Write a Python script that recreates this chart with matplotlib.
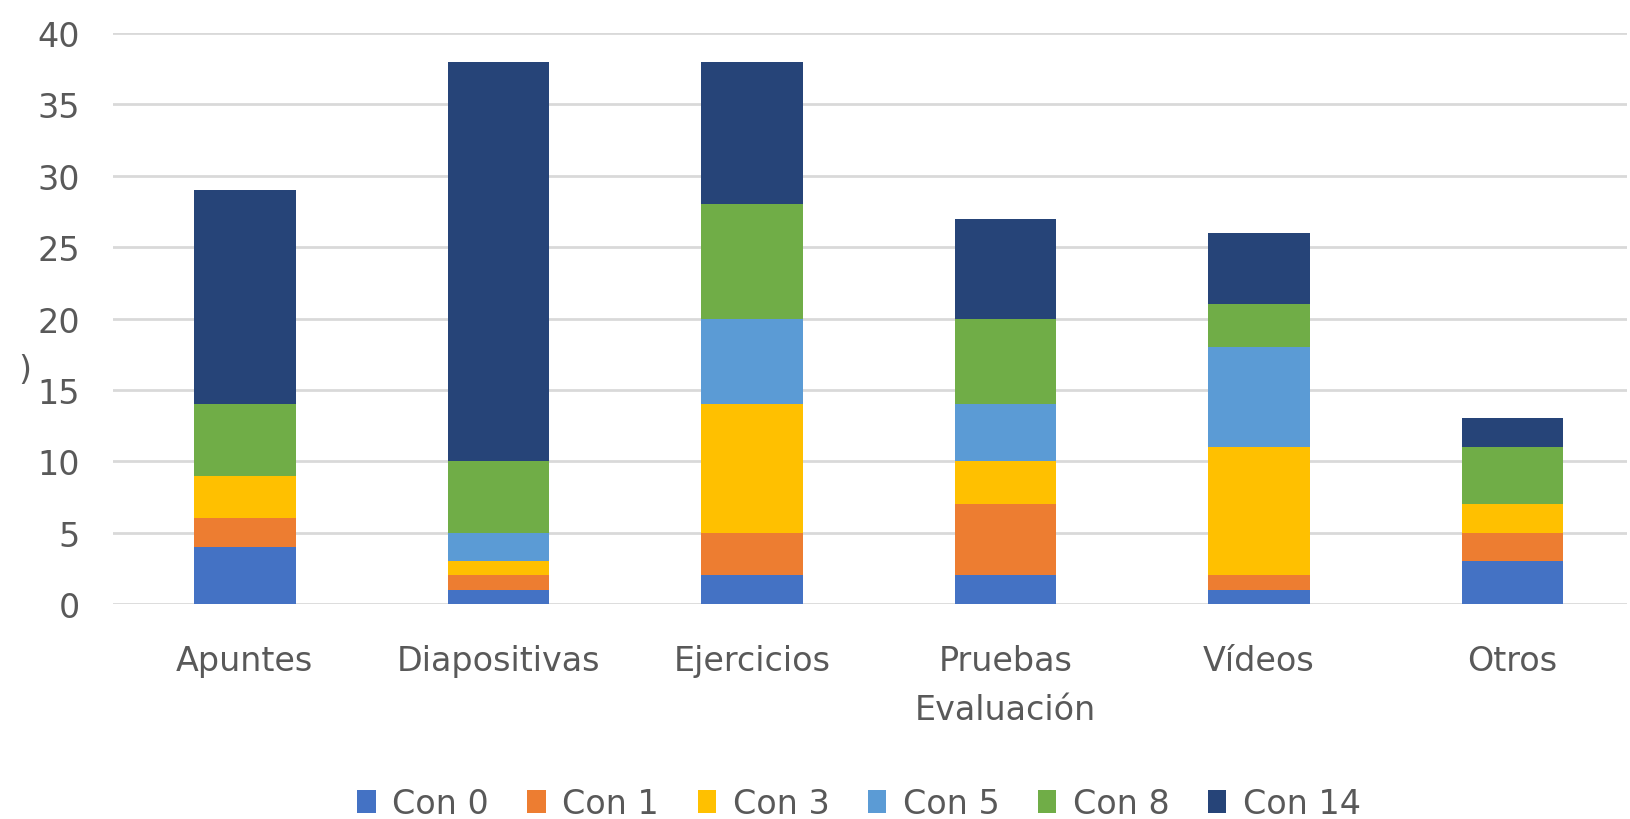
import numpy as np
import matplotlib.pyplot as plt

categories = ['Apuntes', 'Diapositivas', 'Ejercicios', 'Pruebas\nEvaluación', 'Vídeos', 'Otros']
series_names = ['Con 0', 'Con 1', 'Con 3', 'Con 5', 'Con 8', 'Con 14']
con_0 = [4, 1, 2, 2, 1, 3]
con_1 = [2, 1, 3, 5, 1, 2]
con_3 = [3, 1, 9, 3, 9, 2]
con_5 = [0, 2, 6, 4, 7, 0]
con_8 = [5, 5, 8, 6, 3, 4]
con_14 = [15, 28, 10, 7, 5, 2]
colors = ['#4472C4', '#ED7D31', '#FFC000', '#5B9BD5', '#70AD47', '#264478']
y_ticks = [0, 5, 10, 15, 20, 25, 30, 35, 40]

plt.rcParams['font.family'] = ['DejaVu Sans']
text_color = '#595959'
fs = 24

fig = plt.figure(figsize=(16.3, 8.2), dpi=100)
ax = fig.add_axes([0.0693, 0.2622, 0.9287, 0.6963])

x = np.arange(len(categories))
bottom = np.zeros(len(categories))
for name, vals, col in zip(series_names, [con_0, con_1, con_3, con_5, con_8, con_14], colors):
    ax.bar(x, vals, width=0.4, bottom=bottom, color=col, label=name, zorder=3)
    bottom += np.array(vals)

ax.set_ylim(0, 40)
ax.set_xlim(-0.52, 5.45)
ax.set_yticks(y_ticks)
ax.set_xticks(x)
ax.set_xticklabels(categories)
for lbl in ax.get_xticklabels():
    lbl.set_linespacing(1.6)
ax.yaxis.grid(True, color='#D9D9D9', linewidth=2, zorder=0)
for s in ax.spines.values():
    s.set_visible(False)
ax.tick_params(axis='y', length=0, pad=24, labelsize=fs, labelcolor=text_color)
ax.tick_params(axis='x', length=0, pad=29, labelsize=fs, labelcolor=text_color)

fig.text(0.011, 0.548, ')', fontsize=fs, color=text_color, ha='left', va='center')

fig.legend(loc='lower center', bbox_to_anchor=(0.527, -0.038), ncol=6, frameon=False,
           fontsize=fs, labelcolor=text_color, handlelength=0.55, handleheight=0.7,
           handletextpad=0.5, columnspacing=1.15)

fig.savefig('out.png', dpi=100)
